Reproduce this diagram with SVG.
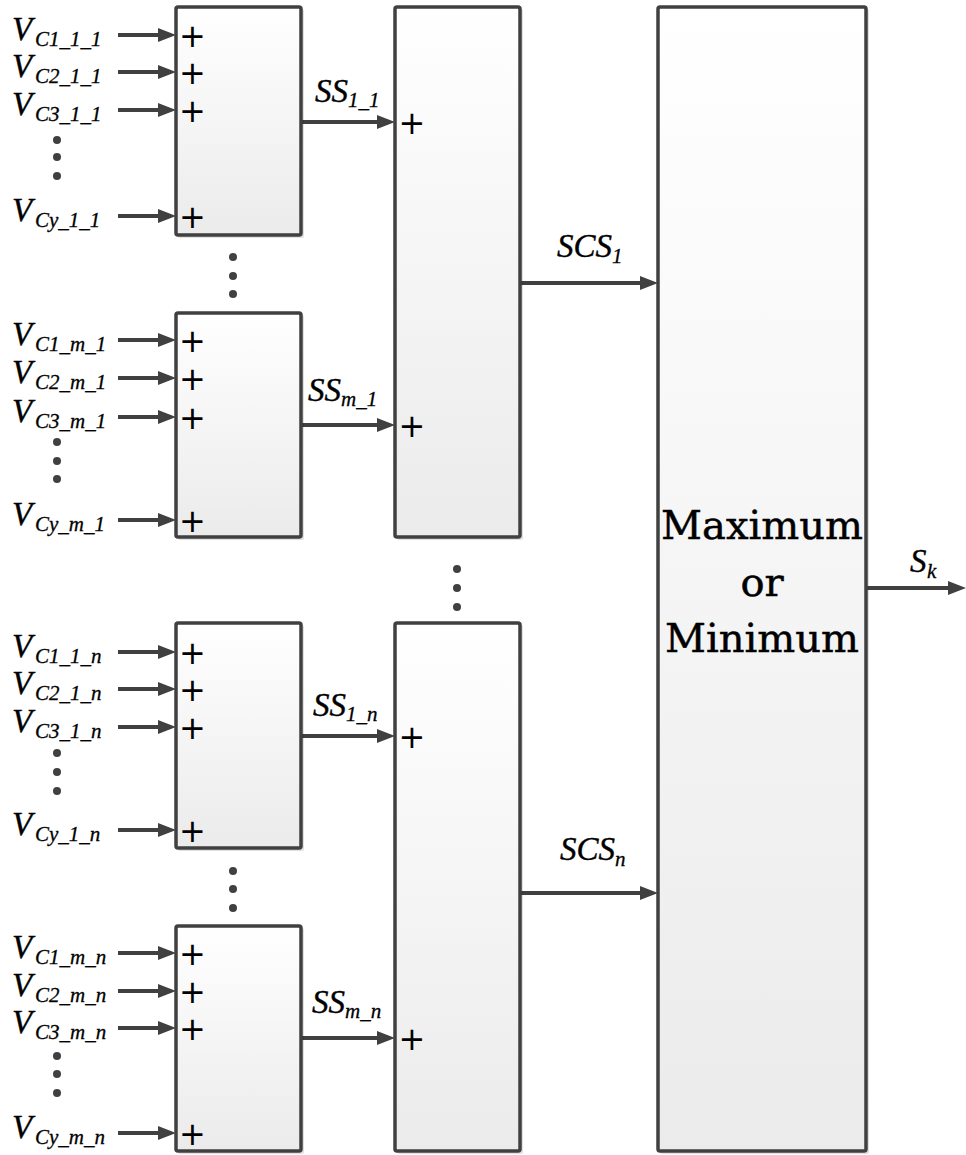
<svg xmlns="http://www.w3.org/2000/svg" width="966" height="1155" viewBox="0 0 966 1155">
<style>
.blk{stroke:#404040;stroke-width:3.5;fill:url(#g)}
.shd{fill:#000;opacity:0.12}
.ar{stroke:#404040;stroke-width:4;fill:none;marker-end:url(#ah)}
.dot{fill:#404040}
.lbl{font-family:"Liberation Serif",serif;font-style:italic;font-size:33px;fill:#000;stroke:#000;stroke-width:0.4}
.sub{font-size:21px;stroke-width:0.3}
.pl{font-family:"DejaVu Sans",sans-serif;font-size:32px;fill:#000;text-anchor:middle}
.big{font-family:"DejaVu Serif",serif;font-size:40px;fill:#000;stroke:#000;stroke-width:0.5;text-anchor:middle}
</style>
<defs>
<linearGradient id="g" x1="0" y1="0" x2="0" y2="1">
<stop offset="0" stop-color="#ffffff"/>
<stop offset="1" stop-color="#ebebeb"/>
</linearGradient>
<marker id="ah" markerUnits="userSpaceOnUse" markerWidth="18" markerHeight="14" refX="8" refY="7" orient="auto">
<path d="M0,0 L18,7 L0,14 z" fill="#404040"/>
</marker>
</defs>
<rect width="966" height="1155" fill="#fff"/>

<g id="connectors">
<line class="ar" x1="118" y1="35" x2="166" y2="35"/>
<line class="ar" x1="118" y1="72" x2="166" y2="72"/>
<line class="ar" x1="118" y1="110" x2="166" y2="110"/>
<line class="ar" x1="118" y1="216" x2="166" y2="216"/>
<line class="ar" x1="118" y1="340" x2="166" y2="340"/>
<line class="ar" x1="118" y1="378" x2="166" y2="378"/>
<line class="ar" x1="118" y1="417" x2="166" y2="417"/>
<line class="ar" x1="118" y1="520" x2="166" y2="520"/>
<line class="ar" x1="118" y1="652" x2="166" y2="652"/>
<line class="ar" x1="118" y1="689" x2="166" y2="689"/>
<line class="ar" x1="118" y1="727" x2="166" y2="727"/>
<line class="ar" x1="118" y1="830" x2="166" y2="830"/>
<line class="ar" x1="118" y1="953" x2="166" y2="953"/>
<line class="ar" x1="118" y1="991" x2="166" y2="991"/>
<line class="ar" x1="118" y1="1028" x2="166" y2="1028"/>
<line class="ar" x1="118" y1="1133" x2="166" y2="1133"/>
<line class="ar" x1="302" y1="122" x2="385" y2="122"/>
<line class="ar" x1="302" y1="425" x2="385" y2="425"/>
<line class="ar" x1="302" y1="736" x2="385" y2="736"/>
<line class="ar" x1="302" y1="1038" x2="385" y2="1038"/>
<line class="ar" x1="521" y1="283" x2="648" y2="283"/>
<line class="ar" x1="521" y1="893" x2="648" y2="893"/>
<line class="ar" x1="867" y1="588" x2="956" y2="588"/>
</g>

<g id="block_1_1">
<rect class="shd" x="178" y="9" width="126" height="229" rx="2"/>
<rect class="blk" x="176" y="7" width="125" height="228" rx="2"/>
<text class="pl" x="192.5" y="47">+</text>
<text class="pl" x="192.5" y="84">+</text>
<text class="pl" x="192.5" y="122">+</text>
<text class="pl" x="192.5" y="228">+</text>
</g>
<g id="block_m_1">
<rect class="shd" x="178" y="315" width="126" height="225" rx="2"/>
<rect class="blk" x="176" y="313" width="125" height="224" rx="2"/>
<text class="pl" x="192.5" y="352">+</text>
<text class="pl" x="192.5" y="390">+</text>
<text class="pl" x="192.5" y="429">+</text>
<text class="pl" x="192.5" y="532">+</text>
</g>
<g id="block_1_n">
<rect class="shd" x="178" y="625" width="126" height="226" rx="2"/>
<rect class="blk" x="176" y="623" width="125" height="225" rx="2"/>
<text class="pl" x="192.5" y="664">+</text>
<text class="pl" x="192.5" y="701">+</text>
<text class="pl" x="192.5" y="739">+</text>
<text class="pl" x="192.5" y="842">+</text>
</g>
<g id="block_m_n">
<rect class="shd" x="178" y="928" width="126" height="226" rx="2"/>
<rect class="blk" x="176" y="926" width="125" height="225" rx="2"/>
<text class="pl" x="192.5" y="965">+</text>
<text class="pl" x="192.5" y="1003">+</text>
<text class="pl" x="192.5" y="1040">+</text>
<text class="pl" x="192.5" y="1145">+</text>
</g>
<g id="sum_1">
<rect class="shd" x="397" y="9" width="126" height="531" rx="2"/>
<rect class="blk" x="395" y="7" width="125" height="530" rx="2"/>
<text class="pl" x="412" y="134">+</text>
<text class="pl" x="412" y="437">+</text>
</g>
<g id="sum_n">
<rect class="shd" x="397" y="625" width="126" height="529" rx="2"/>
<rect class="blk" x="395" y="623" width="125" height="528" rx="2"/>
<text class="pl" x="412" y="748">+</text>
<text class="pl" x="412" y="1050">+</text>
</g>
<g id="maxmin">
<rect class="shd" x="660" y="9" width="209" height="1145" rx="2"/>
<rect class="blk" x="658" y="7" width="208" height="1144" rx="2"/>
<text class="big" x="762" y="539">Maximum</text>
<text class="big" x="762" y="596">or</text>
<text class="big" x="762" y="652">Minimum</text>
</g>

<g id="dots">
<circle class="dot" cx="57" cy="140" r="4"/><circle class="dot" cx="57" cy="157" r="4"/><circle class="dot" cx="57" cy="176" r="4"/>
<circle class="dot" cx="57" cy="442" r="4"/><circle class="dot" cx="57" cy="461" r="4"/><circle class="dot" cx="57" cy="479" r="4"/>
<circle class="dot" cx="57" cy="753" r="4"/><circle class="dot" cx="57" cy="772" r="4"/><circle class="dot" cx="57" cy="791" r="4"/>
<circle class="dot" cx="57" cy="1056" r="4"/><circle class="dot" cx="57" cy="1074" r="4"/><circle class="dot" cx="57" cy="1093" r="4"/>
<circle class="dot" cx="233" cy="257" r="4"/><circle class="dot" cx="233" cy="276" r="4"/><circle class="dot" cx="233" cy="294" r="4"/>
<circle class="dot" cx="233" cy="871" r="4"/><circle class="dot" cx="233" cy="889" r="4"/><circle class="dot" cx="233" cy="908" r="4"/>
<circle class="dot" cx="457" cy="569" r="4"/><circle class="dot" cx="457" cy="588" r="4"/><circle class="dot" cx="457" cy="607" r="4"/>
</g>

<g id="input_labels">
<text class="lbl" x="12" y="40">V<tspan class="sub" x="35" y="46">C1_1_1</tspan></text>
<text class="lbl" x="12" y="77">V<tspan class="sub" x="35" y="83">C2_1_1</tspan></text>
<text class="lbl" x="12" y="115">V<tspan class="sub" x="35" y="121">C3_1_1</tspan></text>
<text class="lbl" x="12" y="221">V<tspan class="sub" x="35" y="227">Cy_1_1</tspan></text>
<text class="lbl" x="12" y="345">V<tspan class="sub" x="35" y="351">C1_m_1</tspan></text>
<text class="lbl" x="12" y="383">V<tspan class="sub" x="35" y="389">C2_m_1</tspan></text>
<text class="lbl" x="12" y="422">V<tspan class="sub" x="35" y="428">C3_m_1</tspan></text>
<text class="lbl" x="12" y="525">V<tspan class="sub" x="35" y="531">Cy_m_1</tspan></text>
<text class="lbl" x="12" y="657">V<tspan class="sub" x="35" y="663">C1_1_n</tspan></text>
<text class="lbl" x="12" y="694">V<tspan class="sub" x="35" y="700">C2_1_n</tspan></text>
<text class="lbl" x="12" y="732">V<tspan class="sub" x="35" y="738">C3_1_n</tspan></text>
<text class="lbl" x="12" y="835">V<tspan class="sub" x="35" y="841">Cy_1_n</tspan></text>
<text class="lbl" x="12" y="958">V<tspan class="sub" x="35" y="964">C1_m_n</tspan></text>
<text class="lbl" x="12" y="996">V<tspan class="sub" x="35" y="1002">C2_m_n</tspan></text>
<text class="lbl" x="12" y="1033">V<tspan class="sub" x="35" y="1039">C3_m_n</tspan></text>
<text class="lbl" x="12" y="1138">V<tspan class="sub" x="35" y="1144">Cy_m_n</tspan></text>
</g>

<g id="signal_labels">
<text class="lbl" x="315" y="102">SS<tspan class="sub" x="348" y="107">1_1</tspan></text>
<text class="lbl" x="308" y="401">SS<tspan class="sub" x="341" y="406">m_1</tspan></text>
<text class="lbl" x="313" y="716">SS<tspan class="sub" x="346" y="721">1_n</tspan></text>
<text class="lbl" x="312" y="1013">SS<tspan class="sub" x="345" y="1018">m_n</tspan></text>
<text class="lbl" x="557" y="257">SCS<tspan class="sub" x="612" y="263">1</tspan></text>
<text class="lbl" x="560" y="860">SCS<tspan class="sub" x="615" y="866">n</tspan></text>
<text class="lbl" x="910" y="572">S<tspan class="sub" x="927" y="578">k</tspan></text>
</g>
</svg>
